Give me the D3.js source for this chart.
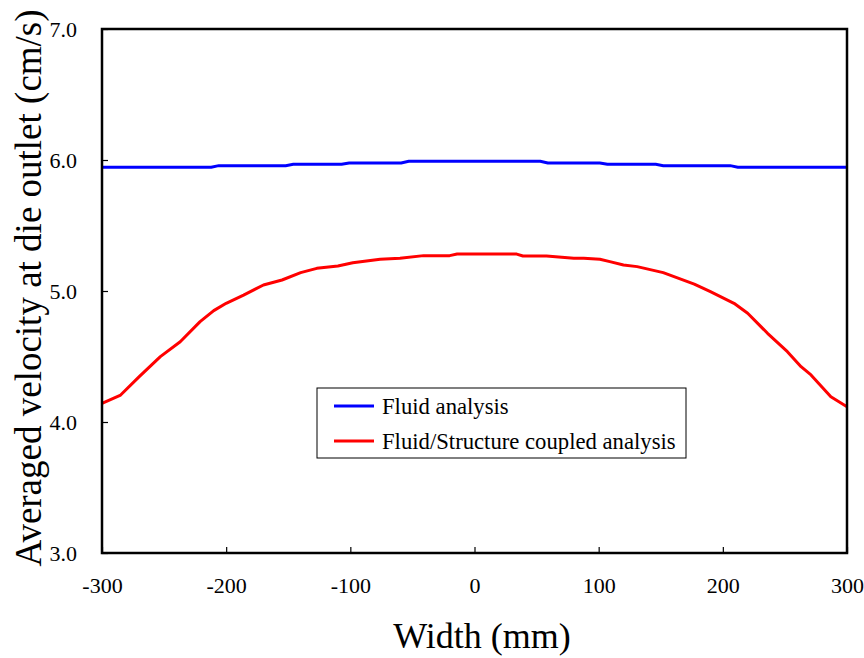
<!DOCTYPE html>
<html>
<head>
<meta charset="utf-8">
<script src="https://cdn.jsdelivr.net/npm/d3@7"></script>
<style>
  body { margin: 0; background: #fff; }
  text { font-family: "Liberation Serif", "Times New Roman", serif; fill: #000; }
</style>
</head>
<body>
<svg id="canvas"></svg>
<script>
var w = 864
var h = 658

// ########## Data ##########
var fluidX = [-300, -212, -206, -152, -146, -107, -101, -59, -53, 53, 59, 101, 107, 146, 152, 206, 212, 300];
var fluidV = [5.944, 5.944, 5.957, 5.957, 5.967, 5.967, 5.977, 5.977, 5.991, 5.991, 5.977, 5.977, 5.967, 5.967, 5.957, 5.957, 5.944, 5.944];

var coupledX = [-300, -285, -270, -253, -237, -221, -210, -200, -186, -170, -155, -140, -127, -110, -98, -76, -60, -41, -20, -14, 0, 34, 39, 58, 80, 88, 101, 109, 120, 131, 152, 177, 190, 209, 220, 236, 252, 263, 271, 287, 300];
var coupledV = [4.143, 4.206, 4.346, 4.499, 4.613, 4.766, 4.85, 4.906, 4.969, 5.046, 5.084, 5.14, 5.173, 5.191, 5.216, 5.242, 5.25, 5.27, 5.27, 5.282, 5.282, 5.282, 5.267, 5.267, 5.25, 5.25, 5.242, 5.224, 5.198, 5.186, 5.14, 5.053, 4.995, 4.906, 4.83, 4.677, 4.537, 4.422, 4.359, 4.193, 4.117];

var xTicks = [-300, -200, -100, 0, 100, 200, 300];
var yTicks = [3.0, 4.0, 5.0, 6.0, 7.0];

var seriesNames = ["Fluid analysis", "Fluid/Structure coupled analysis"];
var seriesColors = ["#0000ff", "#ff0000"];

// ########## SVG ##########
var svg = d3.select("#canvas")
    .attr("width", w)
    .attr("height", h);

var pLeft = 102, pRight = 847, pTop = 29, pBottom = 553;

var x = d3.scaleLinear().domain([-300, 300]).range([pLeft, pRight]);
var y = d3.scaleLinear().domain([3, 7]).range([pBottom, pTop]);

// ########## Axes ##########
var xAxis = svg.append("g")
    .attr("transform", "translate(0," + pBottom + ")")
    .call(d3.axisBottom(x).tickValues(xTicks).tickSizeInner(-6).tickSizeOuter(0).tickPadding(24)
        .tickFormat(function (d) { return String(d); }));
xAxis.select(".domain").remove();
xAxis.selectAll("line").attr("stroke", "#000").attr("stroke-width", 1.2);
xAxis.selectAll("text").attr("font-size", 22).attr("font-family", "Liberation Serif").attr("fill", "#000");

var yAxis = svg.append("g")
    .attr("transform", "translate(" + pLeft + ",0)")
    .call(d3.axisLeft(y).tickValues(yTicks).tickSizeInner(-6).tickSizeOuter(0).tickPadding(25)
        .tickFormat(function (d) { return d.toFixed(1); }));
yAxis.select(".domain").remove();
yAxis.selectAll("line").attr("stroke", "#000").attr("stroke-width", 1.2);
yAxis.selectAll("text").attr("font-size", 22).attr("font-family", "Liberation Serif").attr("fill", "#000");

// ########## Lines ##########
var line = d3.line()
    .x(function (d) { return x(d[0]); })
    .y(function (d) { return y(d[1]); });

var fluid = d3.zip(fluidX, fluidV);
var coupled = d3.zip(coupledX, coupledV);

svg.append("path")
    .datum(fluid)
    .attr("fill", "none")
    .attr("stroke", seriesColors[0])
    .attr("stroke-width", 3)
    .attr("d", line);

svg.append("path")
    .datum(coupled)
    .attr("fill", "none")
    .attr("stroke", seriesColors[1])
    .attr("stroke-width", 3)
    .attr("stroke-linejoin", "round")
    .attr("d", line);

// ########## Frame ##########
svg.append("rect")
    .attr("x", pLeft)
    .attr("y", pTop)
    .attr("width", pRight - pLeft)
    .attr("height", pBottom - pTop)
    .attr("fill", "none")
    .attr("stroke", "#000")
    .attr("stroke-width", 2.5);

// ########## Legend ##########
var legend = svg.append("g");
legend.append("rect")
    .attr("x", 317).attr("y", 388)
    .attr("width", 369).attr("height", 70)
    .attr("fill", "#fff")
    .attr("stroke", "#000")
    .attr("stroke-width", 1);

seriesNames.forEach(function (name, i) {
    var ly = 406 + i * 35;
    legend.append("line")
        .attr("x1", 334).attr("x2", 374)
        .attr("y1", ly).attr("y2", ly)
        .attr("stroke", seriesColors[i])
        .attr("stroke-width", 3);
    legend.append("text")
        .attr("x", 382).attr("y", ly + 8)
        .attr("font-size", 22.7)
        .text(name);
});

// ########## Titles ##########
svg.append("text")
    .attr("x", 482).attr("y", 648)
    .attr("text-anchor", "middle")
    .attr("font-size", 36)
    .text("Width (mm)");

svg.append("text")
    .attr("transform", "translate(41,288) rotate(-90)")
    .attr("text-anchor", "middle")
    .attr("font-size", 37)
    .text("Averaged velocity at die outlet (cm/s)");
</script>
</body>
</html>
